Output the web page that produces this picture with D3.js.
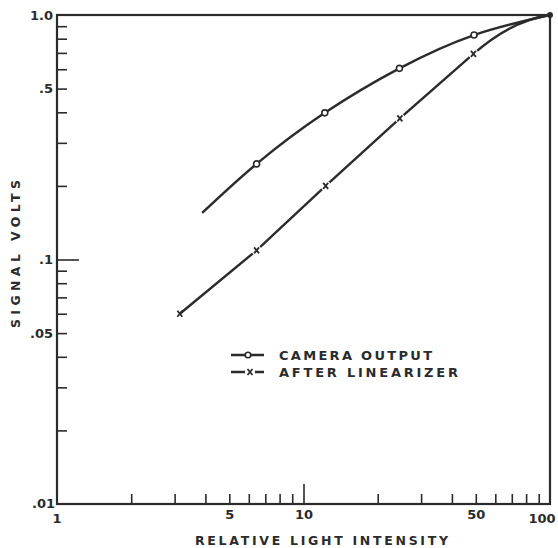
<!DOCTYPE html>
<html>
<head>
<meta charset="utf-8">
<script src="https://cdn.jsdelivr.net/npm/d3@7"></script>
<style>
  body { margin: 0; background: #fff; }
  text { font-family: "DejaVu Sans", sans-serif; fill: #2b2b2b; }
</style>
</head>
<body>
<div class="container"></div>
<script>
// relative light intensity
const cameraX = [3.88, 6.45, 12.2, 24.5, 49.2, 100]   // curve starts without a marker
const cameraY = [0.155, 0.246, 0.398, 0.605, 0.828, 1.0]
const linearX = [3.15, 6.45, 12.3, 24.6, 48.9, 100]
const linearY = [0.06, 0.109, 0.2, 0.378, 0.693, 1.0]

const xTicks = [2, 3, 4, 5, 6, 7, 8, 9, 10, 20, 30, 40, 50, 60, 70, 80, 90]
const xLabels = { 1: "1", 5: "5", 10: "10", 50: "50", 100: "100" }
const yTicks = [0.02, 0.03, 0.04, 0.05, 0.06, 0.07, 0.08, 0.09, 0.1, 0.2, 0.3, 0.4, 0.5, 0.6, 0.7, 0.8, 0.9]
const yLabels = { 0.01: ".01", 0.05: ".05", 0.1: ".1", 0.5: ".5", 1: "1.0" }

const width = 558
const height = 548
const ink = "#2b2b2b"

const x = d3.scaleLog().domain([1, 100]).range([57, 550])
const y = d3.scaleLog().domain([0.01, 1]).range([504, 15])

const svg = d3.select(".container").append("svg")
    .attr("width", width)
    .attr("height", height)

// axes (ticks point inward)
const xAxis = d3.axisBottom(x).tickValues(xTicks).tickSize(-10).tickSizeOuter(0)
    .tickPadding(6).tickFormat(d => xLabels[d] || "")
const yAxis = d3.axisLeft(y).tickValues(yTicks).tickSize(-10).tickSizeOuter(0)
    .tickPadding(4).tickFormat(d => yLabels[d] || "")

const gx = svg.append("g")
    .attr("transform", `translate(0,${y(0.01)})`)
    .call(xAxis)
const gy = svg.append("g")
    .attr("transform", `translate(${x(1)},0)`)
    .call(yAxis)

for (const g of [gx, gy]) {
    g.select(".domain").remove()
    g.selectAll("line").attr("stroke", ink).attr("stroke-width", 1.6)
    g.selectAll("text").attr("font-size", 13).attr("font-weight", "bold").attr("fill", ink)
        .style("font-family", '"DejaVu Sans", sans-serif')
}
gx.selectAll(".tick").filter(d => d === 10).select("line").attr("y2", -20)
gy.selectAll(".tick").filter(d => d === 0.1).select("line").attr("x2", 22)

// end labels that sit on the frame corners
const cornerText = (tx, ty, anchor, s) => svg.append("text")
    .attr("x", tx).attr("y", ty).attr("text-anchor", anchor)
    .attr("font-size", 13).attr("font-weight", "bold").text(s)
cornerText(x(1), y(0.01) + 19, "middle", xLabels[1])
cornerText(x(100) - 8, y(0.01) + 19, "middle", xLabels[100])
cornerText(x(1) - 2, y(0.01) + 4, "end", yLabels[0.01])
cornerText(x(1) - 4, y(1) + 5, "end", yLabels[1])

// frame
svg.append("rect")
    .attr("x", x(1)).attr("y", y(1))
    .attr("width", x(100) - x(1)).attr("height", y(0.01) - y(1))
    .attr("fill", "none").attr("stroke", ink).attr("stroke-width", 2.2)

// axis titles
svg.append("text")
    .attr("x", 195).attr("y", 545)
    .attr("font-size", 12.5).attr("font-weight", "bold")
    .attr("textLength", 253).attr("lengthAdjust", "spacing")
    .text("RELATIVE LIGHT INTENSITY")
svg.append("text")
    .attr("transform", "translate(20,328) rotate(-90)")
    .attr("font-size", 12.5).attr("font-weight", "bold")
    .attr("textLength", 148).attr("lengthAdjust", "spacing")
    .text("SIGNAL VOLTS")

// curves
const camera = cameraX.map((v, i) => [v, cameraY[i]])
const linear = linearX.map((v, i) => [v, linearY[i]])

const line = d3.line()
    .x(d => x(d[0]))
    .y(d => y(d[1]))
    .curve(d3.curveNatural)

svg.append("path").datum(camera)
    .attr("d", line).attr("fill", "none").attr("stroke", ink).attr("stroke-width", 2.4)

// linearizer: straight up to the 50 point, then bends into the full-scale point
const lp = linear.map(d => [x(d[0]), y(d[1])])
const linPath = d3.path()
linPath.moveTo(lp[0][0], lp[0][1])
for (let i = 1; i < lp.length - 1; i++) linPath.lineTo(lp[i][0], lp[i][1])
const n = lp.length - 1
const k = 0.5 * (lp[n][0] - lp[n - 1][0]) / (lp[n - 1][0] - lp[n - 2][0])
linPath.quadraticCurveTo(
    lp[n - 1][0] + k * (lp[n - 1][0] - lp[n - 2][0]),
    lp[n - 1][1] + k * (lp[n - 1][1] - lp[n - 2][1]),
    lp[n][0], lp[n][1])
svg.append("path")
    .attr("d", linPath.toString()).attr("fill", "none").attr("stroke", ink).attr("stroke-width", 2.4)

// circle markers
svg.selectAll(".cam")
    .data(camera.slice(1, 5))
    .enter()
    .append("circle")
    .attr("class", "cam")
    .attr("cx", d => x(d[0])).attr("cy", d => y(d[1]))
    .attr("r", 3).attr("fill", "#fff").attr("stroke", ink).attr("stroke-width", 1.6)

// x markers with a small break in the line
const crossPath = (cx, cy) =>
    `M${cx - 2.5},${cy - 3}L${cx + 2.5},${cy + 3}M${cx + 2.5},${cy - 3}L${cx - 2.5},${cy + 3}`
const crossMark = (g, cx, cy) => {
    g.append("circle").attr("cx", cx).attr("cy", cy).attr("r", 5).attr("fill", "#fff")
    g.append("path").attr("d", crossPath(cx, cy)).attr("stroke", ink).attr("stroke-width", 1.8)
}
const marks = svg.append("g")
linear.slice(1, 5).forEach(d => crossMark(marks, x(d[0]), y(d[1])))
// first point is an x at the end of the line
marks.append("path")
    .attr("d", crossPath(x(linear[0][0]), y(linear[0][1])))
    .attr("stroke", ink).attr("stroke-width", 1.8)

// converging point
svg.append("circle")
    .attr("cx", x(100)).attr("cy", y(1)).attr("r", 3).attr("fill", ink)

// legend
const legend = svg.append("g")
const legendItems = ["CAMERA OUTPUT", "AFTER LINEARIZER"]
const legendLen = [153, 179]
legendItems.forEach((name, i) => {
    const ly = 355 + i * 17
    legend.append("line").attr("x1", 231).attr("x2", 264).attr("y1", ly).attr("y2", ly)
        .attr("stroke", ink).attr("stroke-width", 2.4)
    if (i === 0) {
        legend.append("circle").attr("cx", 248).attr("cy", ly).attr("r", 2.8)
            .attr("fill", "#fff").attr("stroke", ink).attr("stroke-width", 1.6)
    } else {
        crossMark(legend, 250, ly)
    }
    legend.append("text")
        .attr("x", 279).attr("y", ly + 5)
        .attr("font-size", 13).attr("font-weight", "bold")
        .attr("textLength", legendLen[i]).attr("lengthAdjust", "spacing")
        .text(name)
})
</script>
</body>
</html>
